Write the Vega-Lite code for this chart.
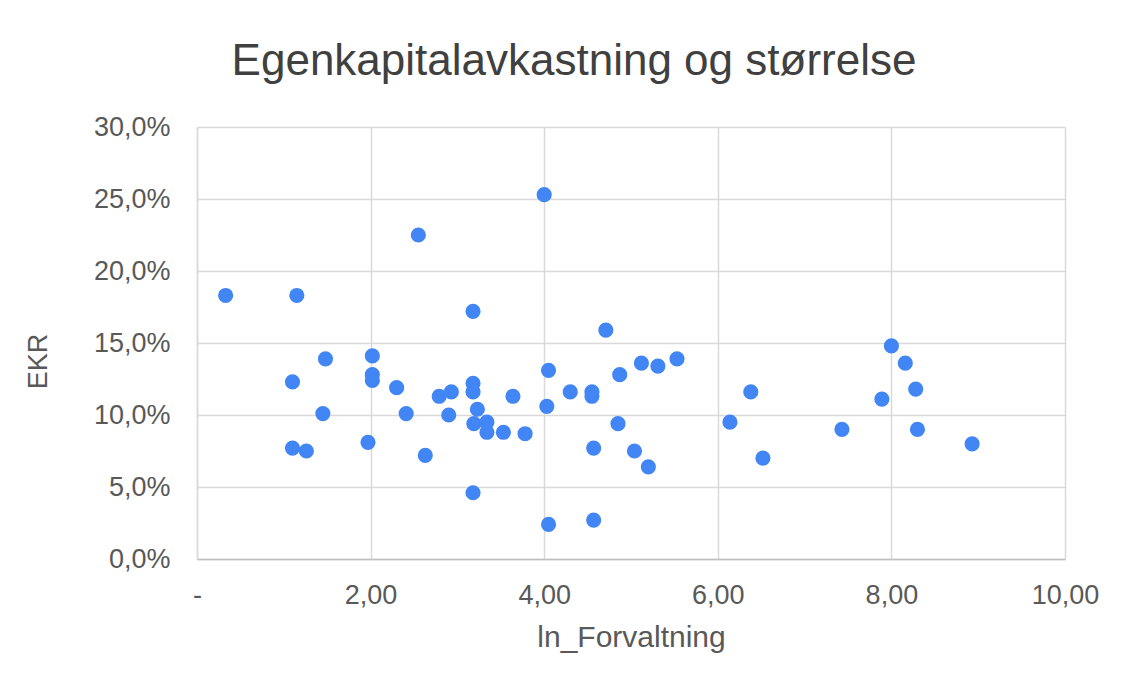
{
  "$schema": "https://vega.github.io/schema/vega-lite/v6.json",
  "autosize": {"type": "none"},
  "width": 868,
  "height": 432,
  "padding": {"left": 197, "top": 127, "right": 67, "bottom": 128},
  "background": "white",
  "title": {
    "text": "Egenkapitalavkastning og størrelse",
    "font": "Liberation Sans",
    "fontSize": 44,
    "fontWeight": "normal",
    "color": "#404040",
    "anchor": "middle",
    "dx": -57,
    "offset": 29
  },
  "config": {
    "view": {"stroke": null},
    "axis": {
      "labelFont": "Liberation Sans",
      "titleFont": "Liberation Sans",
      "labelColor": "#595959",
      "titleColor": "#595959",
      "labelFontSize": 27,
      "titleFontSize": 30,
      "titleFontWeight": "normal",
      "gridColor": "#d9d9d9",
      "gridWidth": 1.5,
      "ticks": false,
      "labelFlush": false
    }
  },
  "data": {
    "values": [
      {"ln_Forvaltning": 0.33, "EKR": 0.183},
      {"ln_Forvaltning": 1.15, "EKR": 0.183},
      {"ln_Forvaltning": 1.10, "EKR": 0.123},
      {"ln_Forvaltning": 1.48, "EKR": 0.139},
      {"ln_Forvaltning": 1.45, "EKR": 0.101},
      {"ln_Forvaltning": 1.10, "EKR": 0.077},
      {"ln_Forvaltning": 1.26, "EKR": 0.075},
      {"ln_Forvaltning": 2.02, "EKR": 0.141},
      {"ln_Forvaltning": 2.02, "EKR": 0.128},
      {"ln_Forvaltning": 2.02, "EKR": 0.124},
      {"ln_Forvaltning": 1.97, "EKR": 0.081},
      {"ln_Forvaltning": 2.55, "EKR": 0.225},
      {"ln_Forvaltning": 2.30, "EKR": 0.119},
      {"ln_Forvaltning": 2.41, "EKR": 0.101},
      {"ln_Forvaltning": 2.63, "EKR": 0.072},
      {"ln_Forvaltning": 2.79, "EKR": 0.113},
      {"ln_Forvaltning": 2.93, "EKR": 0.116},
      {"ln_Forvaltning": 2.90, "EKR": 0.100},
      {"ln_Forvaltning": 3.18, "EKR": 0.172},
      {"ln_Forvaltning": 3.18, "EKR": 0.122},
      {"ln_Forvaltning": 3.18, "EKR": 0.116},
      {"ln_Forvaltning": 3.23, "EKR": 0.104},
      {"ln_Forvaltning": 3.19, "EKR": 0.094},
      {"ln_Forvaltning": 3.34, "EKR": 0.095},
      {"ln_Forvaltning": 3.34, "EKR": 0.088},
      {"ln_Forvaltning": 3.53, "EKR": 0.088},
      {"ln_Forvaltning": 3.78, "EKR": 0.087},
      {"ln_Forvaltning": 3.64, "EKR": 0.113},
      {"ln_Forvaltning": 3.18, "EKR": 0.046},
      {"ln_Forvaltning": 4.00, "EKR": 0.253},
      {"ln_Forvaltning": 4.05, "EKR": 0.131},
      {"ln_Forvaltning": 4.03, "EKR": 0.106},
      {"ln_Forvaltning": 4.05, "EKR": 0.024},
      {"ln_Forvaltning": 4.30, "EKR": 0.116},
      {"ln_Forvaltning": 4.55, "EKR": 0.116},
      {"ln_Forvaltning": 4.55, "EKR": 0.113},
      {"ln_Forvaltning": 4.57, "EKR": 0.077},
      {"ln_Forvaltning": 4.57, "EKR": 0.027},
      {"ln_Forvaltning": 4.71, "EKR": 0.159},
      {"ln_Forvaltning": 4.87, "EKR": 0.128},
      {"ln_Forvaltning": 4.85, "EKR": 0.094},
      {"ln_Forvaltning": 5.12, "EKR": 0.136},
      {"ln_Forvaltning": 5.31, "EKR": 0.134},
      {"ln_Forvaltning": 5.53, "EKR": 0.139},
      {"ln_Forvaltning": 5.04, "EKR": 0.075},
      {"ln_Forvaltning": 5.20, "EKR": 0.064},
      {"ln_Forvaltning": 6.14, "EKR": 0.095},
      {"ln_Forvaltning": 6.38, "EKR": 0.116},
      {"ln_Forvaltning": 6.52, "EKR": 0.070},
      {"ln_Forvaltning": 7.43, "EKR": 0.090},
      {"ln_Forvaltning": 7.89, "EKR": 0.111},
      {"ln_Forvaltning": 8.00, "EKR": 0.148},
      {"ln_Forvaltning": 8.16, "EKR": 0.136},
      {"ln_Forvaltning": 8.28, "EKR": 0.118},
      {"ln_Forvaltning": 8.30, "EKR": 0.090},
      {"ln_Forvaltning": 8.93, "EKR": 0.080}
    ]
  },
  "mark": {"type": "circle", "size": 230, "color": "#4285f4", "opacity": 1},
  "encoding": {
    "x": {
      "field": "ln_Forvaltning",
      "type": "quantitative",
      "scale": {"domain": [0, 10], "nice": false},
      "axis": {
        "title": "ln_Forvaltning",
        "values": [0, 2, 4, 6, 8, 10],
        "labelExpr": "datum.value == 0 ? '-' : replace(format(datum.value, '.2f'), '.', ',')",
        "labelPadding": 23,
        "titlePadding": 14,
        "domainColor": "#bfbfbf",
        "domainWidth": 1.5
      }
    },
    "y": {
      "field": "EKR",
      "type": "quantitative",
      "scale": {"domain": [0, 0.3], "nice": false},
      "axis": {
        "title": "EKR",
        "values": [0, 0.05, 0.1, 0.15, 0.2, 0.25, 0.3],
        "labelExpr": "replace(format(datum.value, '.1%'), '.', ',')",
        "labelPadding": 27,
        "titleX": -159,
        "titleY": 234,
        "titleAngle": -90,
        "titleBaseline": "middle",
        "titleAlign": "center",
        "titleFontSize": 27,
        "domainColor": "#d9d9d9",
        "domainWidth": 1.5
      }
    }
  }
}
